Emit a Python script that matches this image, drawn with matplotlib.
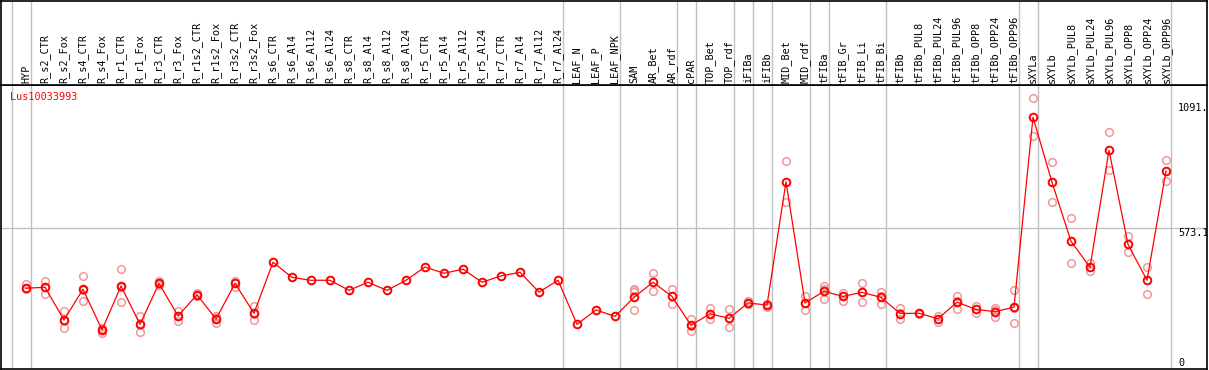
import matplotlib.pyplot as plt

# column labels
labels = ['HYP', 'R_s2_CTR', 'R_s2_Fox', 'R_s4_CTR', 'R_s4_Fox', 'R_r1_CTR', 'R_r1_Fox',
          'R_r3_CTR', 'R_r3_Fox', 'R_r1s2_CTR', 'R_r1s2_Fox', 'R_r3s2_CTR', 'R_r3s2_Fox',
          'R_s6_CTR', 'R_s6_Al4', 'R_s6_Al12', 'R_s6_Al24', 'R_s8_CTR', 'R_s8_Al4',
          'R_s8_Al12', 'R_s8_Al24', 'R_r5_CTR', 'R_r5_Al4', 'R_r5_Al12', 'R_r5_Al24',
          'R_r7_CTR', 'R_r7_Al4', 'R_r7_Al12', 'R_r7_Al24', 'LEAF_N', 'LEAF_P', 'LEAF_NPK',
          'SAM', 'AR_Bet', 'AR_rdf', 'cPAR', 'TOP_Bet', 'TOP_rdf', 'iFIBa', 'iFIBb',
          'MID_Bet', 'MID_rdf', 'tFIBa', 'tFIB_Gr', 'tFIB_Li', 'tFIB_Bi', 'tFIBb',
          'tFIBb_PUL8', 'tFIBb_PUL24', 'tFIBb_PUL96', 'tFIBb_OPP8', 'tFIBb_OPP24',
          'tFIBb_OPP96', 'sXYLa', 'sXYLb', 'sXYLb_PUL8', 'sXYLb_PUL24', 'sXYLb_PUL96',
          'sXYLb_OPP8', 'sXYLb_OPP24', 'sXYLb_OPP96']

# mean expression per column
means = [323, 327, 191, 319, 150, 332, 173, 343, 208, 296, 195, 343, 219,
         431, 368, 356, 356, 314, 348, 314, 356, 411, 385, 402, 348, 374, 389, 307, 356,
         173, 233, 206,
         285, 348, 289, 169, 217, 198, 262, 253, 765, 262,
         310, 289, 306, 285, 218, 219, 196, 265, 235, 226, 244,
         1033, 763, 518, 410, 896, 505, 356, 810]

# replicate values (empty where only the mean is shown)
reps = [[340, 318], [353, 298, 330], [228, 157, 188], [374, 269, 315], [159, 136, 152],
        [402, 265, 330], [208, 140, 172], [353, 336, 341], [228, 188, 208], [304, 292],
        [209, 177, 198], [354, 329, 345], [249, 190, 218],
        [], [], [], [], [], [], [], [], [], [], [], [], [], [], [], [],
        [], [], [],
        [321, 314, 308, 232], [385, 310], [319, 257], [194, 147, 165], [242, 194],
        [235, 161, 198], [271, 257], [257, 244, 258], [853, 682], [291, 231, 262],
        [333, 277, 320], [302, 271, 292], [343, 266, 309], [309, 257, 289],
        [240, 194, 220], [222, 216], [208, 184], [291, 235, 269], [250, 221],
        [240, 205, 233], [316, 177, 240],
        [1112, 954], [846, 680], [613, 428], [426, 396], [970, 815], [541, 472],
        [410, 298], [854, 768]]

# group separators sit after these columns
separators = [-1, 0, 28, 31, 34, 35, 37, 38, 39, 41, 42, 45, 52, 53, 60]

gene = 'Lus10033993'
mid_value = 573.1
max_label = '1091.'
max_value = 1091

W, H = 1209, 370
fig = plt.figure(figsize=(W / 100, H / 100), dpi=100)
mono = 'DejaVu Sans Mono'
fs = 7.3

x0, x1 = (1 - 26) / 19, (1207 - 26) / 19
ax = fig.add_axes([1 / W, 1 / H, 1206 / W, 284 / H])
hd = fig.add_axes([1 / W, 285 / H, 1206 / W, 84 / H])

for a in (ax, hd):
    a.set_xlim(x0, x1)
    a.set_xticks([])
    a.set_yticks([])
    for s in a.spines.values():
        s.set_linewidth(1.2)
        s.set_color('black')
    for k in separators:
        a.axvline(k + 0.25, color='#c0c0c0', lw=1, zorder=0)

ax.set_ylim(-12.5, 1167)
hd.set_ylim(85, 0)

ax.axhline(mid_value, color='#c0c0c0', lw=1, zorder=0)

xs = list(range(len(labels)))
for i, r in enumerate(reps):
    if r:
        ax.plot([i] * len(r), r, 'o', ms=5.5, mfc='none', mec='#f09898', mew=1.1, zorder=2)
ax.plot(xs, means, '-', color='red', lw=0.9, zorder=3)
ax.plot(xs, means, 'o', ms=5.5, mfc='none', mec='red', mew=1.4, zorder=4)

for i, lab in enumerate(labels):
    hd.text(i, 83, lab, rotation=90, ha='center', va='bottom', family=mono, fontsize=fs)

ax.text(-0.84, 1140, gene, color='red', ha='left', va='top', family=mono, fontsize=fs)
tx = (1178 - 26) / 19
ax.text(tx, max_value, max_label, ha='left', va='top', family=mono, fontsize=fs)
ax.text(tx, mid_value, str(mid_value), ha='left', va='top', family=mono, fontsize=fs)
ax.text(tx, 0, '0', ha='left', va='baseline', family=mono, fontsize=fs)

plt.savefig('out.png', dpi=100)
